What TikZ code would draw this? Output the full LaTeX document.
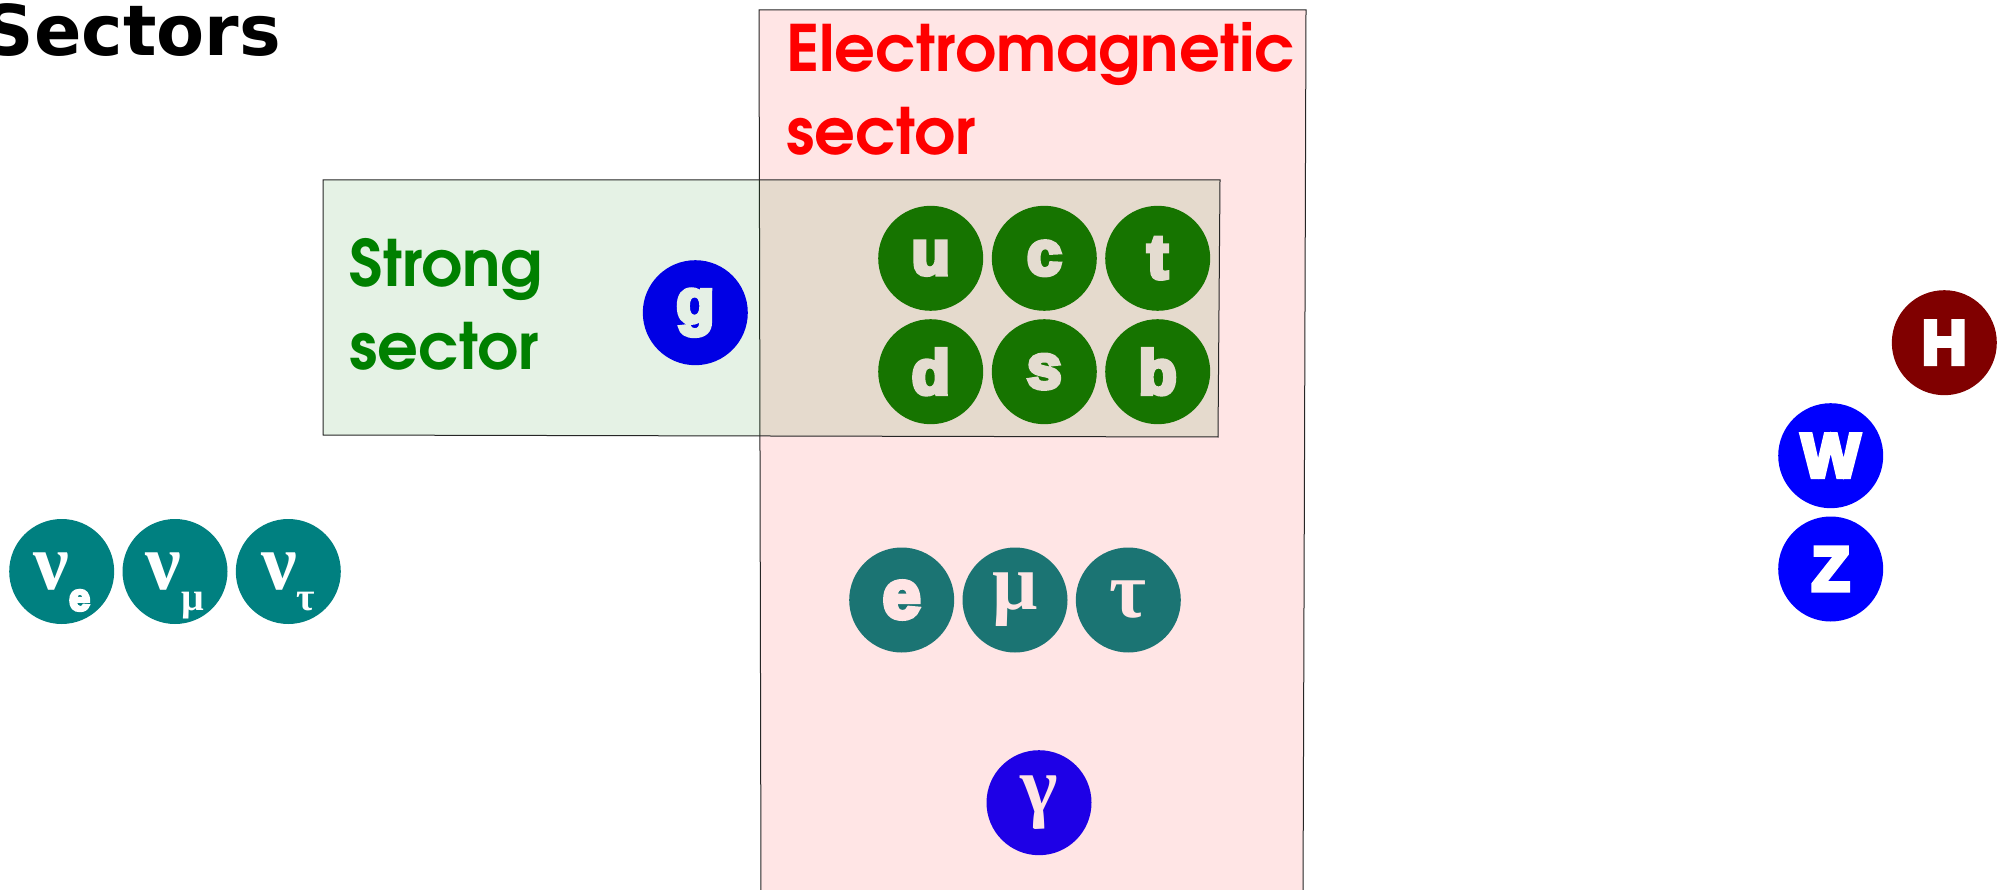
\documentclass[tikz,border=0pt]{standalone}
\usepackage{fontspec}
\setmainfont{Liberation Sans}
\newfontfamily\titlefont{DejaVu Sans}
\newfontfamily\secfont{texgyreadventor-bold.otf}
\newfontfamily\grkfont{Liberation Serif}
\newfontfamily\heavyfont{Liberation Sans}[BoldFeatures={FakeBold=7}]
\definecolor{emred}{RGB}{255,0,0}
\definecolor{strgreen}{RGB}{0,128,0}
\definecolor{quark}{RGB}{22,116,0}
\definecolor{lepton}{RGB}{27,116,115}
\definecolor{neutrino}{RGB}{0,128,128}
\definecolor{gluon}{RGB}{0,0,228}
\definecolor{photon}{RGB}{30,0,230}
\definecolor{wzblue}{RGB}{0,0,255}
\definecolor{higgs}{RGB}{128,0,0}
\definecolor{pinkbg}{RGB}{255,229,229}
\definecolor{greenbg}{RGB}{229,240,229}
\definecolor{beigebg}{RGB}{228,220,208}
\begin{document}
\begin{tikzpicture}[x=1pt,y=-1pt,
  box/.style={draw=black!85,line width=1pt},
  part/.style={circle,minimum size=105pt,inner sep=0pt,
     font=\heavyfont\bfseries\fontsize{62}{62}\selectfont},
  grk/.style={font=\grkfont\bfseries\fontsize{80}{80}\selectfont},
  nu/.style={part,fill=neutrino,text=white,text height=48pt,text depth=12pt,
     font=\grkfont\bfseries\fontsize{80}{80}\selectfont},
  seclabel/.style={anchor=base west,inner sep=0pt,align=left,
     font=\secfont\fontsize{64}{83}\selectfont}]
\useasboundingbox (0,0) rectangle (2013,890);
\fill[white] (0,0) rectangle (2013,890);
% Electromagnetic sector box
\path[box,fill=red,fill opacity=0.1] (759,10) -- (1306,10) -- (1303,900) -- (761,900) -- cycle;
% Strong sector box
\path[box,fill=strgreen,fill opacity=0.1] (323,180) -- (1220,180) -- (1218,437) -- (323,435) -- cycle;
% title
\node[anchor=base east,inner sep=0pt,font=\titlefont\bfseries\fontsize{70}{70}\selectfont] (title) at (281,56) {Sectors};
% sector labels (anchor = baseline of last line)
\node[seclabel,text=emred] (emlab) at (786,155) {Electromagnetic\\sector};
\node[seclabel,text=strgreen] (stlab) at (349,369.5) {Strong\\sector};
% gluon
\node[part,fill=gluon,text=greenbg] (g) at (695.3,312.7) {g};
% quarks
\node[part,fill=quark,text=beigebg] (u) at (930.7,258.3) {u};
\node[part,fill=quark,text=beigebg] (c) at (1044.3,258.3) {c};
\node[part,fill=quark,text=beigebg] (t) at (1157.7,258.3) {t};
\node[part,fill=quark,text=beigebg] (d) at (930.7,371.7) {d};
\node[part,fill=quark,text=beigebg] (s) at (1044.3,371.7) {s};
\node[part,fill=quark,text=beigebg] (b) at (1157.7,371.7) {b};
% leptons
\node[part,fill=lepton,text=pinkbg,font=\heavyfont\bfseries\fontsize{68}{68}\selectfont] (e) at (901.7,600) {e};
\node[part,fill=lepton,text=pinkbg,grk] (mu) at (1015,600) {μ};
\node[part,fill=lepton,text=pinkbg,grk] (tau) at (1128.3,600) {τ};
% photon
\node[part,fill=photon,text=pinkbg,grk] (gamma) at (1039,802.7) {γ};
% neutrinos
\node[nu] (nue) at (61.7,571.5)
  {ν\raisebox{-21pt}{\heavyfont\bfseries\fontsize{38}{38}\selectfont e}};
\node[nu] (numu) at (175,571.5)
  {ν\raisebox{-21pt}{\fontsize{40}{40}\selectfont μ}};
\node[nu] (nutau) at (288.3,571.5)
  {ν\raisebox{-21pt}{\fontsize{40}{40}\selectfont τ}};
% bosons
\node[part,fill=higgs,text=white] (H) at (1944.3,342.7) {H};
\node[part,fill=wzblue,text=white] (W) at (1830.7,455.7) {W};
\node[part,fill=wzblue,text=white] (Z) at (1830.7,569) {Z};
\end{tikzpicture}
\end{document}
